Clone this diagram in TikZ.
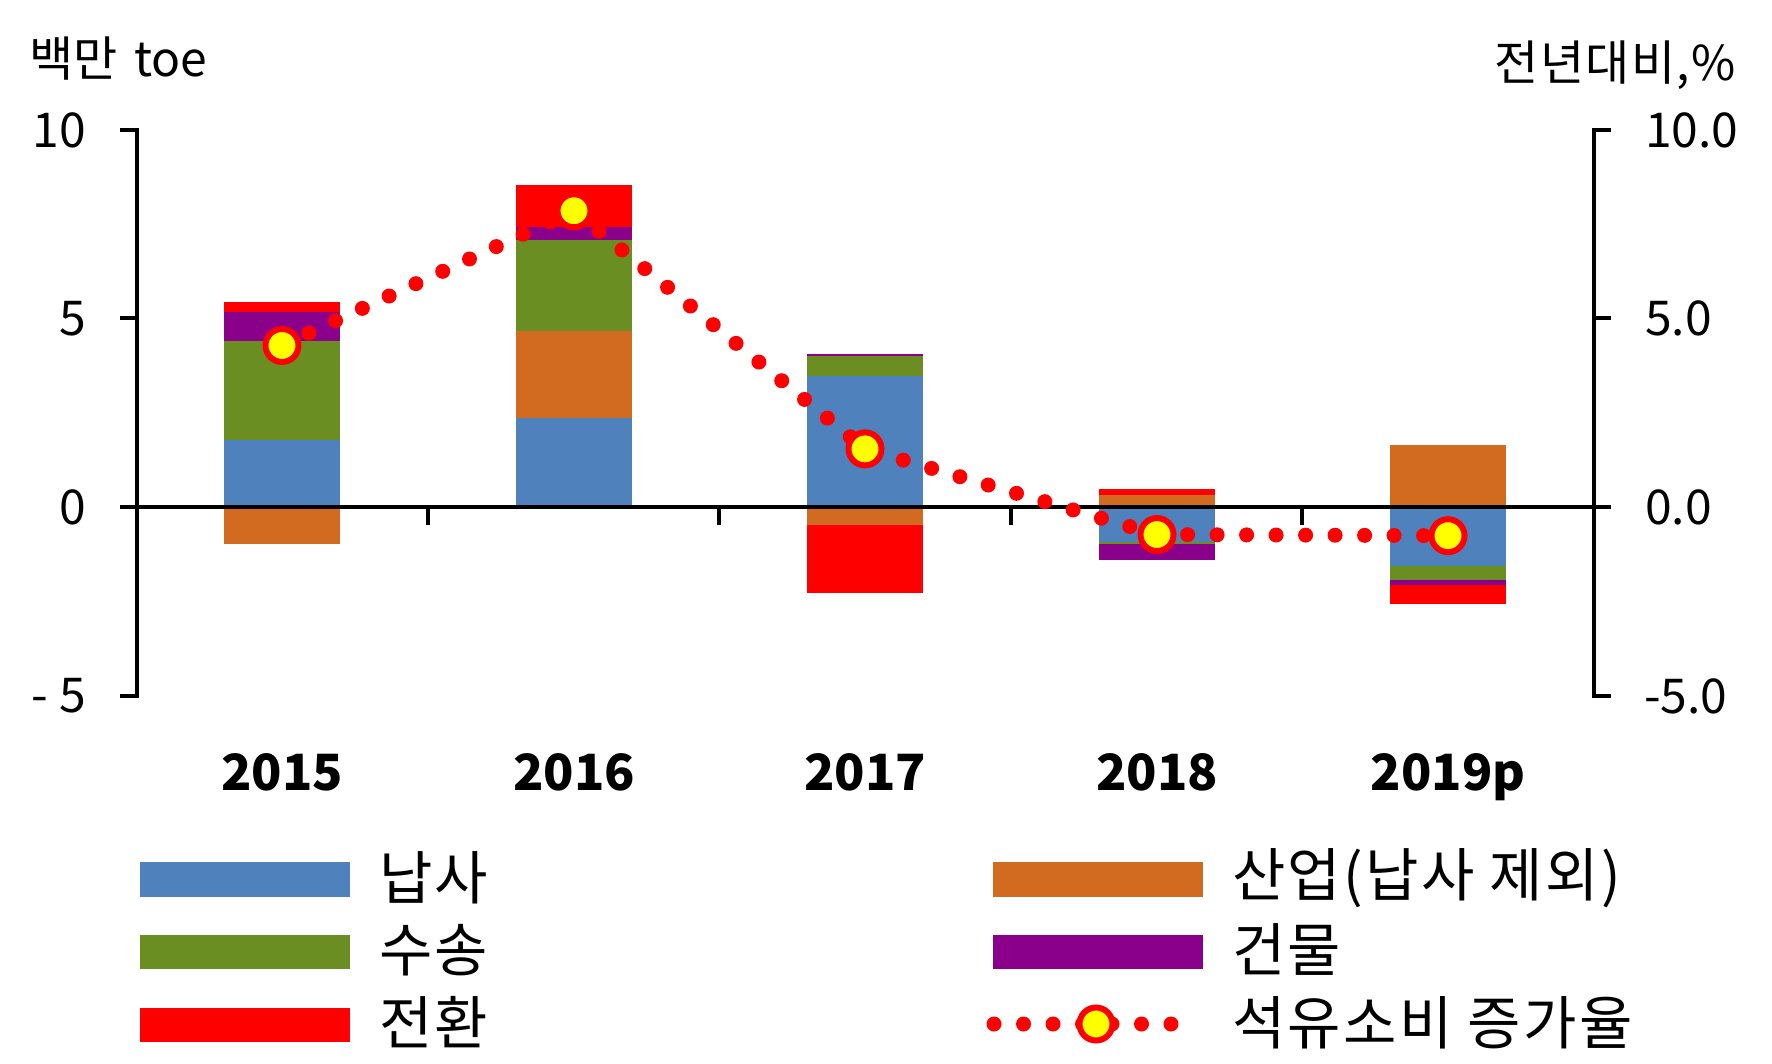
\documentclass[tikz,border=0pt]{standalone}
\usepackage{fontspec}
\setmainfont{Noto Sans CJK KR}
\definecolor{cblue}{RGB}{79,129,189}
\definecolor{corange}{RGB}{210,106,32}
\definecolor{cgreen}{RGB}{107,142,35}
\definecolor{cpurple}{RGB}{139,0,139}
\definecolor{cred}{RGB}{255,0,0}
\definecolor{cyellow}{RGB}{255,255,0}
\newcommand\seg[4]{\fill[#1] ({#2-58},{507-37.74*(#3)}) rectangle ({#2+58},{507-37.74*(#4)});}
\begin{document}
\begin{tikzpicture}[x=1pt,y=-1pt,
 axis/.style={line width=4pt, black, line join=miter},
 ticklab/.style={font=\fontsize{48}{56}\selectfont, inner sep=0pt},
 yearlab/.style={font=\fontsize{50}{58}\selectfont\bfseries, inner sep=0pt},
 legtext/.style={font=\fontsize{58}{66}\selectfont\addfontfeature{LetterSpace=4}, inner sep=0pt, anchor=west},
 swatch/.style={minimum width=210pt, minimum height=34.5pt, inner sep=0pt, draw=none},
 marker/.style={circle, fill=cyellow, draw=cred, line width=6pt, minimum size=33pt, inner sep=0pt},
 dotline/.style={cred, line width=15pt, line cap=round, dash pattern=on 0pt off 29.5pt},
]
\useasboundingbox (0,0) rectangle (1772,1064);
% bars 2015
\seg{cblue}{282}{0}{1.78}
\seg{cgreen}{282}{1.78}{4.40}
\seg{cpurple}{282}{4.40}{5.17}
\seg{cred}{282}{5.17}{5.42}
\seg{corange}{282}{0}{-0.97}
% 2016
\seg{cblue}{574}{0}{2.37}
\seg{corange}{574}{2.37}{4.67}
\seg{cgreen}{574}{4.67}{7.08}
\seg{cpurple}{574}{7.08}{7.43}
\seg{cred}{574}{7.43}{8.54}
% 2017
\seg{cblue}{865}{0}{3.47}
\seg{cgreen}{865}{3.47}{4.00}
\seg{cpurple}{865}{4.00}{4.06}
\seg{corange}{865}{0}{-0.48}
\seg{cred}{865}{-0.48}{-2.28}
% 2018
\seg{corange}{1157}{0}{0.32}
\seg{cred}{1157}{0.32}{0.48}
\seg{cblue}{1157}{0}{-0.92}
\seg{cgreen}{1157}{-0.92}{-0.97}
\seg{cpurple}{1157}{-0.97}{-1.41}
% 2019p
\seg{corange}{1448}{0}{1.65}
\seg{cblue}{1448}{0}{-1.56}
\seg{cgreen}{1448}{-1.56}{-1.94}
\seg{cpurple}{1448}{-1.94}{-2.07}
\seg{cred}{1448}{-2.07}{-2.57}
% axes
\draw[axis] (120,130) -- (136.6,130) -- (136.6,696) -- (120,696);
\draw[axis] (120,318.5) -- (136.6,318.5);
\draw[axis] (1611,130) -- (1594,130) -- (1594,696) -- (1611,696);
\draw[axis] (1594,318.5) -- (1611,318.5);
\draw[axis] (120,507) -- (1611,507);
\foreach \cx in {428,719.4,1010.8,1302.2} \draw[axis] (\cx,507) -- (\cx,525);
% tick labels
\node[ticklab, anchor=east] (yl1) at (86,130) {10};
\node[ticklab, anchor=east] (yl2) at (86,318.5) {5};
\node[ticklab, anchor=east] (yl3) at (86,507) {0};
\node[ticklab, anchor=east] (yl4) at (86,696) {- 5};
\node[ticklab, anchor=west] (yr1) at (1645,130) {10.0};
\node[ticklab, anchor=west] (yr2) at (1645,318.5) {5.0};
\node[ticklab, anchor=west] (yr3) at (1645,507) {0.0};
\node[ticklab, anchor=west] (yr4) at (1644,696) {-5.0};
\node[ticklab, anchor=base west] (tl) at (29,77) {백만\hspace{6pt} toe};
\node[ticklab, anchor=base east] (tr) at (1736,81) {\addfontfeature{LetterSpace=3}전년대비,\%};
% years
\node[yearlab, anchor=base] (x1) at (282,790) {2015};
\node[yearlab, anchor=base] (x2) at (574,790) {2016};
\node[yearlab, anchor=base] (x3) at (865,790) {2017};
\node[yearlab, anchor=base] (x4) at (1157,790) {2018};
\node[yearlab, anchor=base] (x5) at (1448,790) {2019p};
% line
\coordinate (p1) at (282,{507-37.74*4.28});
\coordinate (p2) at (574,{507-37.74*7.85});
\coordinate (p3) at (865,{507-37.74*1.54});
\coordinate (p4) at (1157,{507-37.74*(-0.73)});
\coordinate (p5) at (1448,{507-37.74*(-0.76)});
\draw[dotline] (p1) -- (p2) -- (p3) -- (p4) -- (p5);
\foreach \i in {1,...,5} \node[marker] (m\i) at (p\i) {};
% legend
\node[swatch, fill=cblue] (s1) at (245,879.5) {};
\node[swatch, fill=cgreen] (s2) at (245,952) {};
\node[swatch, fill=cred] (s3) at (245,1025) {};
\node[swatch, fill=corange] (s4) at (1098,879.5) {};
\node[swatch, fill=cpurple] (s5) at (1098,952) {};
\node[legtext] (t1) at (379,878) {납사};
\node[legtext] (t2) at (379,950) {수송};
\node[legtext] (t3) at (379,1022.5) {전환};
\node[legtext] (t4) at (1232,878) {산업(납사 제외)};
\node[legtext] (t5) at (1232,950) {건물};
\node[legtext] (t6) at (1232,1022.5) {석유소비 증가율};
\coordinate (ls) at (994,1024);
\coordinate (le) at (1173,1024);
\draw[dotline] (ls) -- (le);
\node[marker] (lm) at (1096,1024) {};
\end{tikzpicture}
\end{document}
